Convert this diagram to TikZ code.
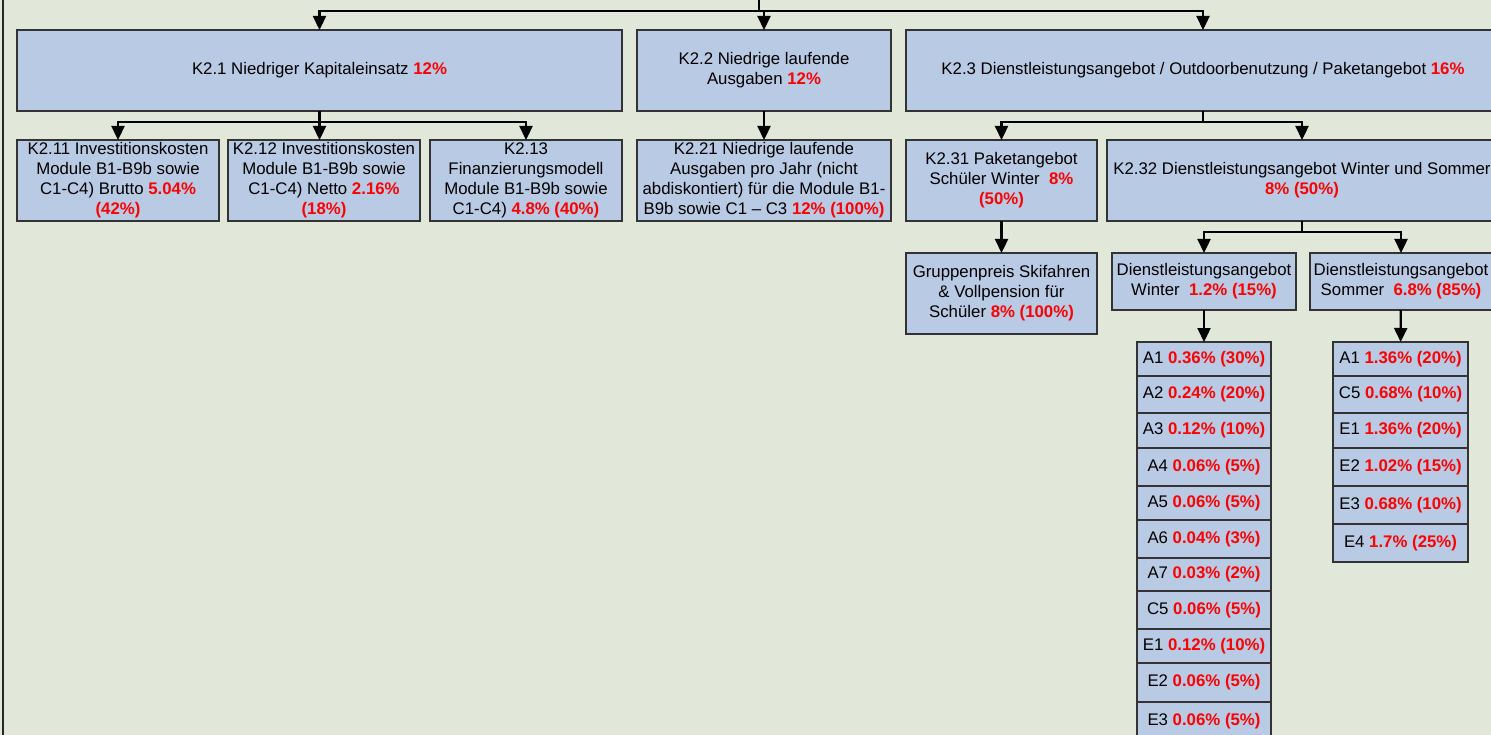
\documentclass[tikz,border=0pt]{standalone}
\usepackage{fontspec}
\setmainfont{Liberation Sans}
\usetikzlibrary{arrows.meta}
\definecolor{bgcol}{RGB}{225,232,217}
\definecolor{boxcol}{RGB}{185,202,228}
\newcommand{\pct}[1]{\textcolor{red}{\bfseries #1}}
\tikzset{
  box/.style={draw=black!80, line width=1.2pt, fill=boxcol, align=center,
    outer sep=0pt, inner sep=2pt, font=\fontsize{16.8}{20}\selectfont},
  line/.style={line width=2.3pt},
  arr/.style={line width=2.3pt, -{Triangle[width=13pt,length=14pt]}}
}
\begin{document}
\begin{tikzpicture}[x=1pt,y=-1pt]
        % 背景和左边框
        \fill[bgcol] (0,0) rectangle (1491,735);
        \useasboundingbox (0,0) rectangle (1491,735);
        \draw[line width=2pt, black!85] (3,0) -- (3,735);
        % 第一层
        \node[box, minimum width=605pt, minimum height=81pt] (k21) at (319.5,70.5)
            {K2.1 Niedriger Kapitaleinsatz \pct{12\%}};
        \node[box, minimum width=254pt, minimum height=81pt] (k22) at (764,70.5)
            {K2.2 Niedrige laufende\\Ausgaben \pct{12\%}};
        \node[box, minimum width=594pt, minimum height=81pt] (k23) at (1203,70.5)
            {K2.3 Dienstleistungsangebot / Outdoorbenutzung / Paketangebot \pct{16\%}};
        % 第二层
        \node[box, minimum width=202pt, minimum height=81pt] (k211) at (118,180.5)
            {K2.11 Investitionskosten\\Module B1-B9b sowie\\C1-C4) Brutto \pct{5.04\%}\\\pct{(42\%)}};
        \node[box, minimum width=192pt, minimum height=81pt] (k212) at (324,180.5)
            {K2.12 Investitionskosten\\Module B1-B9b sowie\\C1-C4) Netto \pct{2.16\%}\\\pct{(18\%)}};
        \node[box, minimum width=192pt, minimum height=81pt] (k213) at (526,180.5)
            {K2.13\\Finanzierungsmodell\\Module B1-B9b sowie\\C1-C4) \pct{4.8\% (40\%)}};
        \node[box, minimum width=254pt, minimum height=81pt] (k221) at (764,180.5)
            {K2.21 Niedrige laufende\\Ausgaben pro Jahr (nicht\\abdiskontiert) für die Module B1-\\B9b sowie C1 – C3 \pct{12\% (100\%)}};
        \node[box, minimum width=191pt, minimum height=81pt] (k231) at (1001.5,180.5)
            {K2.31 Paketangebot\\Schüler Winter\ \ \pct{8\%}\\\pct{(50\%)}};
        \node[box, minimum width=390pt, minimum height=81pt] (k232) at (1302,180.5)
            {K2.32 Dienstleistungsangebot Winter und Sommer\\\pct{8\% (50\%)}};
        % 第三层
        \node[box, minimum width=191pt, minimum height=81pt] (grp) at (1001.5,293.5)
            {Gruppenpreis Skifahren\\\& Vollpension für\\Schüler \pct{8\% (100\%)}};
        \node[box, minimum width=184pt, minimum height=57pt] (win) at (1204,281.5)
            {Dienstleistungsangebot\\Winter\ \ \pct{1.2\% (15\%)}};
        \node[box, minimum width=182pt, minimum height=57pt] (som) at (1401,281.5)
            {Dienstleistungsangebot\\Sommer\ \ \pct{6.8\% (85\%)}};
        % 两列
        \foreach \lab/\val/\ya/\yb [count=\i] in {A1/0.36\% (30\%)/342/376,
            A2/0.24\% (20\%)/376/413, A3/0.12\% (10\%)/413/448,
            A4/0.06\% (5\%)/448/486, A5/0.06\% (5\%)/486/520,
            A6/0.04\% (3\%)/520/558, A7/0.03\% (2\%)/558/591,
            C5/0.06\% (5\%)/591/629, E1/0.12\% (10\%)/629/663,
            E2/0.06\% (5\%)/663/702, E3/0.06\% (5\%)/702/740}
            \node[box, minimum width=134pt, minimum height={(\yb-\ya)*1pt}] (w\i)
                at (1204,{(\ya+\yb)/2}) {\lab\ \pct{\val}};
        \foreach \lab/\val/\ya/\yb [count=\i] in {A1/1.36\% (20\%)/342/376,
            C5/0.68\% (10\%)/376/413, E1/1.36\% (20\%)/413/448,
            E2/1.02\% (15\%)/448/486, E3/0.68\% (10\%)/486/524,
            E4/1.7\% (25\%)/524/562}
            \node[box, minimum width=135pt, minimum height={(\yb-\ya)*1pt}] (s\i)
                at (1400.5,{(\ya+\yb)/2}) {\lab\ \pct{\val}};
        % 连线
        \coordinate (top) at (759,0);
        \coordinate (bus) at (759,11);
        \draw[line] (top) -- (bus);
        \draw[arr] (bus) -| (k21);
        \draw[arr] (bus) -| (k22);
        \draw[arr] (bus) -| (k23);
        \draw[line] (k21.south) -- ++(0,11) coordinate (b1);
        \draw[arr] (b1) -| (k211);
        \draw[arr] (b1) -- (k212.north -| b1);
        \draw[arr] (b1) -| (k213);
        \draw[arr] (k22) -- (k221);
        \draw[line] (k23.south) -- ++(0,11) coordinate (b3);
        \draw[arr] (b3) -| (k231);
        \draw[arr] (b3) -| (k232);
        \draw[arr] (k231) -- (grp);
        \draw[line] (k232.south) -- ++(0,11) coordinate (b32);
        \draw[arr] (b32) -| (win);
        \draw[arr] (b32) -| (som);
        \draw[arr] (win) -- (w1);
        \draw[arr] (som) -- (s1);
\end{tikzpicture}
\end{document}
